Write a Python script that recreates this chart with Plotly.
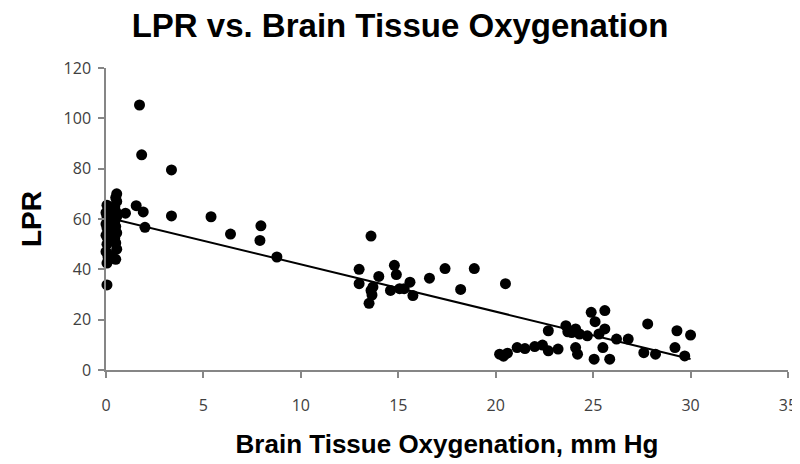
import numpy as np
import plotly.graph_objects as go

# Brain tissue oxygenation (mm Hg) and LPR values
pbto2 = [
    0.05, 0.05, 0.1, 0.0, 0.05, 0.1, 0.0, 0.1, 0.05, 0.0, 0.1, 0.05, 0.0, 0.1, 0.05,
    0.5, 0.3, 0.55, 0.5, 0.45, 0.55, 0.5, 0.45, 0.55, 0.5, 0.45, 0.55, 0.5, 0.55,
    1.0, 1.55, 1.72, 1.83, 1.91, 2.0, 3.36, 3.36, 5.39, 6.39, 7.95, 7.9, 8.77,
    12.99, 12.99, 13.6, 14.0, 13.6, 13.65, 13.5, 13.7, 14.8, 14.9, 14.6, 15.07,
    15.3, 15.6, 15.75, 16.6, 17.4, 18.2, 18.9, 20.5,
    20.2, 20.4, 20.6, 21.1, 21.5, 22.0, 22.4, 22.7, 23.2, 22.7, 23.6, 23.7, 23.9,
    24.1, 24.3, 24.1, 24.2, 24.7, 24.9, 25.1, 25.6, 25.3, 25.6, 25.5, 25.05, 25.85,
    26.2, 26.8, 27.8, 27.6, 28.2, 29.2, 29.3, 29.7, 30.0,
]
lpr = [
    33.8, 42.5, 45.0, 47.0, 50.0, 52.0, 53.5, 55.0, 56.5, 58.0, 59.5, 61.0, 62.5, 64.0, 65.5,
    44.0, 45.5, 48.0, 50.5, 52.5, 54.5, 57.0, 59.0, 61.0, 63.0, 65.0, 67.0, 68.5, 70.0,
    62.3, 65.3, 105.3, 85.5, 62.8, 56.7, 79.5, 61.2, 60.9, 54.0, 57.3, 51.5, 44.9,
    40.0, 34.3, 53.2, 37.2, 31.6, 29.8, 26.5, 33.0, 41.6, 37.9, 31.6, 32.3,
    32.3, 34.9, 29.6, 36.5, 40.3, 32.0, 40.3, 34.3,
    6.3, 5.5, 6.7, 8.9, 8.5, 9.3, 9.9, 7.6, 8.3, 15.6, 17.6, 15.2, 14.9,
    16.3, 14.3, 8.9, 6.3, 13.6, 22.9, 19.2, 23.6, 14.3, 16.3, 8.9, 4.3, 4.3,
    12.3, 12.3, 18.3, 6.9, 6.3, 8.9, 15.6, 5.6, 13.9,
]

x_ticks = [0, 5, 10, 15, 20, 25, 30, 35]
y_ticks = [0, 20, 40, 60, 80, 100, 120]

x = np.array(pbto2)
y = np.array(lpr)
slope, intercept = np.polyfit(x, y, 1)
fit_x = np.array([x.min(), x.max()])
fit_y = slope * fit_x + intercept

fig = go.Figure()
fig.add_trace(go.Scatter(
    x=x, y=y, mode="markers",
    marker=dict(color="black", size=11, line=dict(width=0)),
    showlegend=False, cliponaxis=False,
))
fig.add_trace(go.Scatter(
    x=fit_x, y=fit_y, mode="lines",
    line=dict(color="black", width=2),
    showlegend=False,
))

tick_font = dict(family="Open Sans, Liberation Sans, sans-serif", size=16, color="#404040")
axis_common = dict(
    showgrid=False, zeroline=False, showline=True, linecolor="#868686", linewidth=1.5,
    ticks="outside", ticklen=6, tickcolor="#868686", tickwidth=1.5,
    tickfont=tick_font, automargin=False,
)

fig.update_layout(
    width=800, height=464,
    margin=dict(l=98, r=20, t=60, b=102),
    paper_bgcolor="white", plot_bgcolor="white",
    title=dict(
        text="<b>LPR vs. Brain Tissue Oxygenation</b>",
        x=0.49, xanchor="center", y=0.962, yanchor="middle",
        font=dict(family="Liberation Sans, Arial, sans-serif", size=33, color="black"),
    ),
    xaxis=dict(
        range=[0, 35], tickvals=x_ticks, ticklabelstandoff=14,
        title=dict(text="<b>Brain Tissue Oxygenation, mm Hg</b>", standoff=20,
                   font=dict(family="Liberation Sans, Arial, sans-serif", size=26, color="black")),
        **axis_common,
    ),
    yaxis=dict(
        range=[0, 120], tickvals=y_ticks, ticklabelstandoff=4,
        title=dict(text="<b>LPR</b>", standoff=14,
                   font=dict(family="Liberation Sans, Arial, sans-serif", size=28, color="black")),
        **axis_common,
    ),
)

fig.write_html("out.html")
